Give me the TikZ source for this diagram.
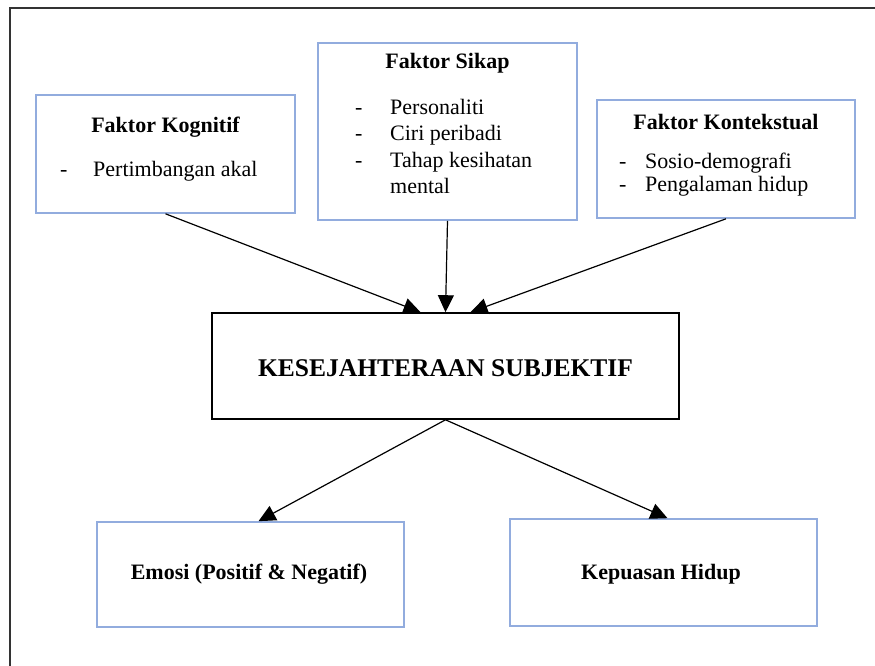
\documentclass[tikz,border=0pt]{standalone}
\usepackage{fontspec}
\setmainfont{Liberation Serif}
\newfontfamily\hurufserif{Liberation Serif}
\usetikzlibrary{arrows.meta}
\usetikzlibrary{positioning}
\usepackage{xcolor}
\definecolor{garisbiru}{RGB}{146,172,222}

\begin{document}
\begin{tikzpicture}[x=1pt,y=-1pt,
  kotak/.style={draw=garisbiru, line width=1.6pt, inner sep=0pt},
  judul/.style={anchor=base, font=\hurufserif\fontsize{22}{26}\selectfont\bfseries},
  senarai/.style={anchor=base west, inner sep=0pt, font=\hurufserif\fontsize{22}{26}\selectfont},
  panah/.style={draw=black, line width=1.2pt, -{Triangle[length=17pt,width=16pt]}}]
\clip (0,0) rectangle (875,666);
\draw[black!80, line width=1.6pt] (10,8) rectangle (890,680);
% kotak faktor
\node[kotak, minimum width=259pt, minimum height=118pt] (kog) at (165.5,154) {};
\node[kotak, minimum width=259pt, minimum height=177pt] (sikap) at (447.5,131.5) {};
\node[kotak, minimum width=258pt, minimum height=118pt] (kon) at (726,159) {};
\node[draw=black, line width=1.6pt, minimum width=467pt, minimum height=106pt, inner sep=0pt] (utama) at (445.5,366) {};
\node[kotak, minimum width=307pt, minimum height=105pt] (emo) at (250.5,574.5) {};
\node[kotak, minimum width=307pt, minimum height=107pt] (kep) at (663.5,572.5) {};
% teks
\node[judul] (kogT) at (165.5,132) {Faktor Kognitif};
\node[senarai] (kogS) at (60,176) {\begin{tabular}[t]{@{}p{33pt}@{}l@{}}- & Pertimbangan akal\end{tabular}};
\node[judul] (sikapT) at (447.5,69) {Faktor Sikap};
\node[senarai] (sikapS) at (355,115) {\begin{tabular}[t]{@{}p{35pt}@{}l@{}}- & Personaliti\\- & Ciri peribadi\\- & Tahap kesihatan\\ & mental\end{tabular}};
\node[judul] (konT) at (726,129) {Faktor Kontekstual};
\node[senarai, font=\hurufserif\fontsize{22}{23.5}\selectfont] (konS) at (619,168) {\begin{tabular}[t]{@{}p{26pt}@{}l@{}}- & Sosio-demografi\\- & Pengalaman hidup\end{tabular}};
\node[judul, font=\hurufserif\fontsize{25.5}{30}\selectfont\bfseries] (utamaT) at (445.5,376) {KESEJAHTERAAN SUBJEKTIF};
\node[judul] (emoT) at (249,579) {Emosi (Positif \& Negatif)};
\node[judul] (kepT) at (661,579) {Kepuasan Hidup};
% anak panah
\draw[panah] (kog.south) -- ([xshift=-25pt]utama.north);
\draw[panah] (sikap.south) -- (utama.north);
\draw[panah] (kon.south) -- ([xshift=25pt]utama.north);
\draw[panah] (utama.south) -- ([xshift=8pt]emo.north);
\draw[panah] (utama.south) -- ([xshift=4pt]kep.north);
\end{tikzpicture}
\end{document}
